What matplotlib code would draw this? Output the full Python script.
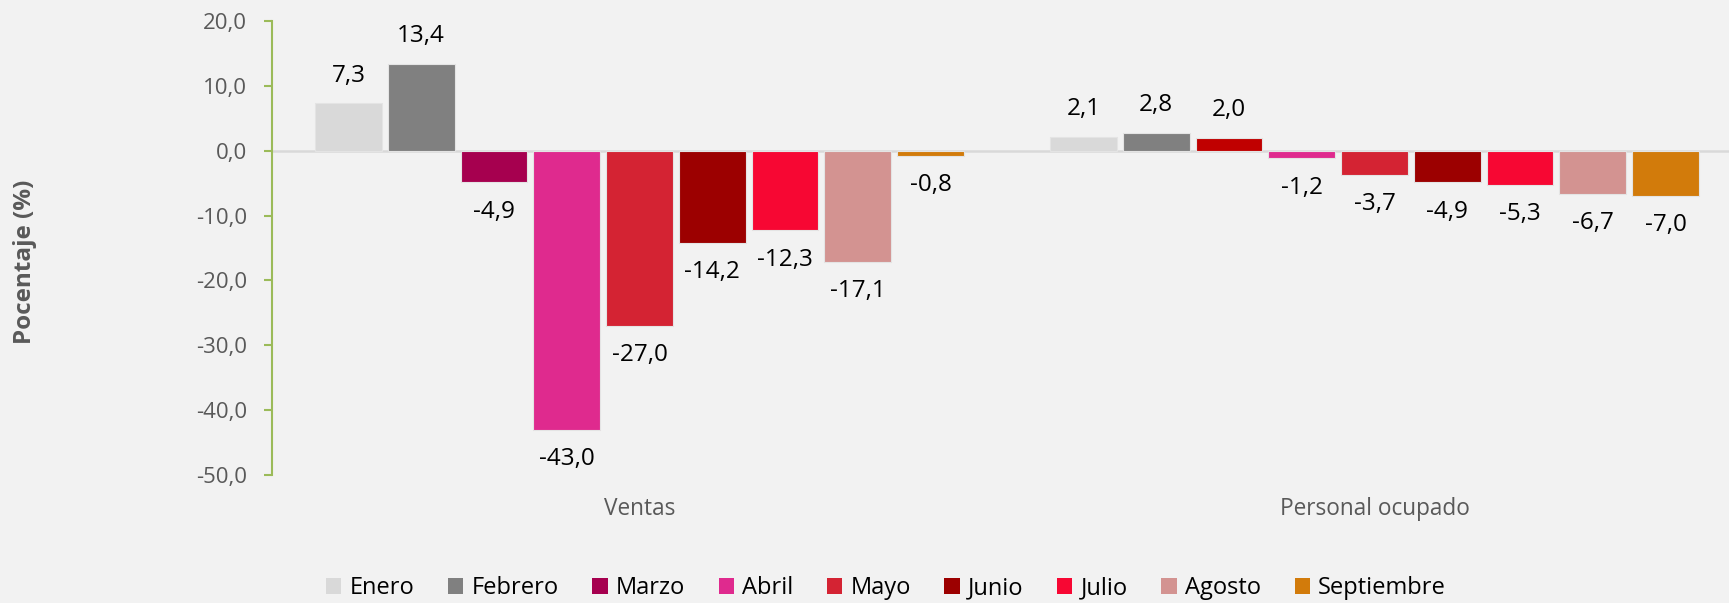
import numpy as np
import matplotlib
matplotlib.use("Agg")
import matplotlib.pyplot as plt
from matplotlib.patches import Patch

plt.rcParams['font.family'] = ['Open Sans', 'DejaVu Sans']

# data
grupos = ["Ventas", "Personal ocupado"]
meses = ["Enero", "Febrero", "Marzo", "Abril", "Mayo", "Junio", "Julio", "Agosto", "Septiembre"]
ventas = [7.3, 13.4, -4.9, -43.0, -27.0, -14.2, -12.3, -17.1, -0.8]
personal = [2.1, 2.8, 2.0, -1.2, -3.7, -4.9, -5.3, -6.7, -7.0]
colores = ["#D9D9D9", "#808080", "#A6004F", "#DF2A8E", "#D42333",
           "#9C0000", "#F70733", "#D39391", "#D27B0B"]
# marzo in personal ocupado is drawn in another red in the original
colores_personal = colores.copy()
colores_personal[2] = "#C00000"
yticks = [20, 10, 0, -10, -20, -30, -40, -50]

BG = "#F2F2F2"
GRAY = "#595959"
GREEN = "#9BBB59"

fig = plt.figure(figsize=(17.29, 6.03), dpi=100, facecolor=BG)
ax = fig.add_axes([272/1729, 128/603, 1470/1729, 454/603])
ax.set_facecolor(BG)

step = 0.099
width = 0.091
offsets = (np.arange(len(meses)) - (len(meses) - 1) / 2) * step

for gi, (vals, cols) in enumerate([(ventas, colores), (personal, colores_personal)]):
    for i in range(len(meses)):
        x = gi + offsets[i]
        v = vals[i]
        ax.bar(x, v, width=width, color=cols[i], edgecolor="#E4E4E4", linewidth=0.8, zorder=3)
        lbl = f"{v:.1f}".replace(".", ",")
        ax.annotate(lbl, (x, v), xytext=(0, 20 if v >= 0 else -21), textcoords="offset points",
                    ha="center", va="center", fontsize=17.5, color="black", zorder=4)

ax.axhline(0, color="#D9D9D9", linewidth=1.8, zorder=2)

ax.set_xlim(-0.5, 1.5)
ax.set_ylim(-50, 20)
ax.set_yticks(yticks)
ax.set_yticklabels([f"{t:.1f}".replace(".", ",") for t in yticks])
ax.set_xticks([0, 1])
ax.set_xticklabels(grupos)

for s in ["top", "right", "bottom"]:
    ax.spines[s].set_visible(False)
ax.spines["left"].set_color(GREEN)
ax.spines["left"].set_linewidth(1.5)
ax.tick_params(axis="y", direction="out", length=6, width=1.5, color=GREEN,
               labelcolor=GRAY, labelsize=16, pad=12)
ax.tick_params(axis="x", length=0, labelcolor=GRAY, labelsize=16.3, pad=16)

fig.text(25/1729, 1 - 262/603, "Pocentaje (%)", rotation=90, ha="center", va="center",
         fontsize=17.5, fontweight="bold", color=GRAY)

handles = [Patch(facecolor=c, edgecolor="none") for c in colores]
fig.legend(handles, meses, loc="center", bbox_to_anchor=(886/1729, 1 - 588/603), ncol=9,
           frameon=False, fontsize=17, handlelength=0.65, handleheight=0.65,
           handletextpad=0.35, columnspacing=1.42)

fig.savefig("out.png", dpi=100, facecolor=BG)
